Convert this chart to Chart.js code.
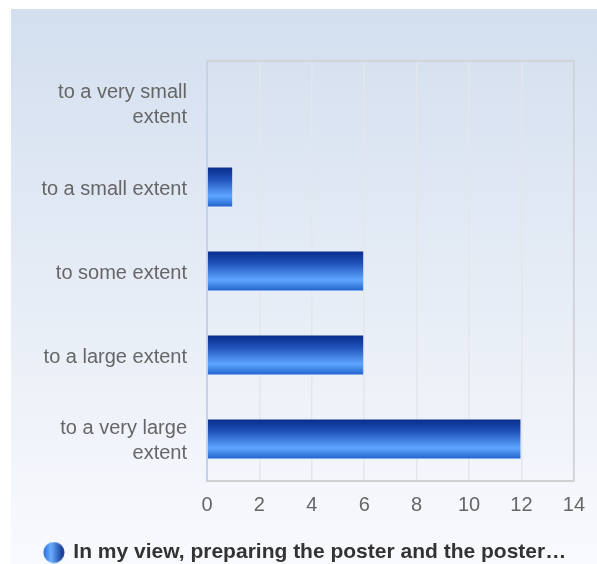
<!DOCTYPE html>
<html>
<head>
<meta charset="utf-8">
<script src="https://cdn.jsdelivr.net/npm/chart.js@4/dist/chart.umd.min.js"></script>
<style>
  html, body { margin: 0; padding: 0; background: #fff; }
  #wrap { width: 597px; height: 564px; }
</style>
</head>
<body>
<div id="wrap"><canvas id="myChart" width="597" height="564"></canvas></div>
<script>
var categories = [['to a very small', 'extent'], 'to a small extent', 'to some extent', 'to a large extent', ['to a very large', 'extent']];
var seriesName = 'In my view, preparing the poster and the poster\u2026';
var seriesValues = [0, 1, 6, 6, 12];
var xTicks = [0, 2, 4, 6, 8, 10, 12, 14];

var BAR_PCT = 0.49;

// background panel with soft vertical gradient, plus plot frame
var panelPlugin = {
  id: 'panel',
  afterLayout: function(chart) {
    // centre the legend on the whole panel, not only on the plot
    chart.legend.left += 13;
    chart.legend.right += 13;
  },
  beforeDraw: function(chart) {
    var c = chart.ctx;
    var g = c.createLinearGradient(0, 9, 0, 564);
    g.addColorStop(0, '#d3dfef');
    g.addColorStop(1, '#f9fafd');
    c.save();
    c.fillStyle = g;
    c.fillRect(11, 9, 597 - 11, 564 - 9);
    c.restore();
  },
  beforeDatasetsDraw: function(chart) {
    var a = chart.chartArea;
    var c = chart.ctx;
    c.save();
    c.strokeStyle = '#d2d4d8';
    c.lineWidth = 2;
    c.beginPath();
    c.moveTo(a.left, a.top);
    c.lineTo(a.right, a.top);
    c.lineTo(a.right, a.bottom);
    c.stroke();
    c.strokeStyle = '#c5d2ea';
    c.beginPath();
    c.moveTo(a.left, a.top);
    c.lineTo(a.left, a.bottom);
    c.stroke();
    c.restore();
  }
};

function barGradient(ctx) {
  var chart = ctx.chart;
  var y = chart.scales.y;
  if (!y || y.height == null) return '#2a6ad8';
  var band = y.height / categories.length;
  var mid = y.getPixelForValue(ctx.dataIndex);
  var top = mid - band * BAR_PCT / 2;
  var bot = mid + band * BAR_PCT / 2;
  var g = chart.ctx.createLinearGradient(0, top, 0, bot);
  g.addColorStop(0, '#062a88');
  g.addColorStop(0.3, '#1e4fb8');
  g.addColorStop(0.72, '#5ea6ff');
  g.addColorStop(1, '#1d5ec8');
  return g;
}

// legend marker: round ball with horizontal gradient
var marker = document.createElement('canvas');
marker.width = 22; marker.height = 22;
(function() {
  var m = marker.getContext('2d');
  var g = m.createLinearGradient(1, 0, 21, 0);
  g.addColorStop(0, '#2f6fd8');
  g.addColorStop(0.35, '#6aaeff');
  g.addColorStop(1, '#0a2f8c');
  m.fillStyle = g;
  m.beginPath();
  m.arc(11, 11, 10.5, 0, Math.PI * 2);
  m.fill();
})();

var data = {
  labels: categories,
  datasets: [{
    label: seriesName,
    data: seriesValues,
    backgroundColor: barGradient,
    borderColor: 'rgba(235,242,255,0.9)',
    borderWidth: 1,
    borderSkipped: 'start',
    barPercentage: BAR_PCT,
    categoryPercentage: 1,
    pointStyle: marker
  }]
};

window.onload = function() {
  var ctx = document.getElementById('myChart').getContext('2d');
  new Chart(ctx, {
    type: 'bar',
    data: data,
    plugins: [panelPlugin],
    options: {
      indexAxis: 'y',
      responsive: false,
      animation: false,
      layout: { padding: { left: 11, top: 61, right: 23, bottom: -9 } },
      scales: {
        x: {
          min: 0,
          max: 14,
          afterBuildTicks: function(s) {
            s.ticks = xTicks.map(function(v) { return { value: v }; });
          },
          afterFit: function(s) { s.height = 57; },
          border: { display: true, color: '#d0d0d0', width: 2 },
          grid: { color: '#e3e6ea', lineWidth: 1.5, drawTicks: false },
          ticks: { color: '#666', padding: 12, font: { family: 'Liberation Sans', size: 20 } }
        },
        y: {
          afterFit: function(s) { s.width = 196; },
          border: { display: false },
          grid: { display: false, drawTicks: false },
          ticks: { color: '#666', padding: 20, labelOffset: 2, font: { family: 'Liberation Sans', size: 20, lineHeight: 1.25 } }
        }
      },
      plugins: {
        tooltip: { enabled: false },
        legend: {
          position: 'bottom',
          labels: {
            usePointStyle: true,
            boxWidth: 18,
            color: '#333',
            padding: 4,
            font: { family: 'Liberation Sans', size: 21, weight: 'bold' }
          }
        }
      }
    },
  });
};
</script>
</body>
</html>
